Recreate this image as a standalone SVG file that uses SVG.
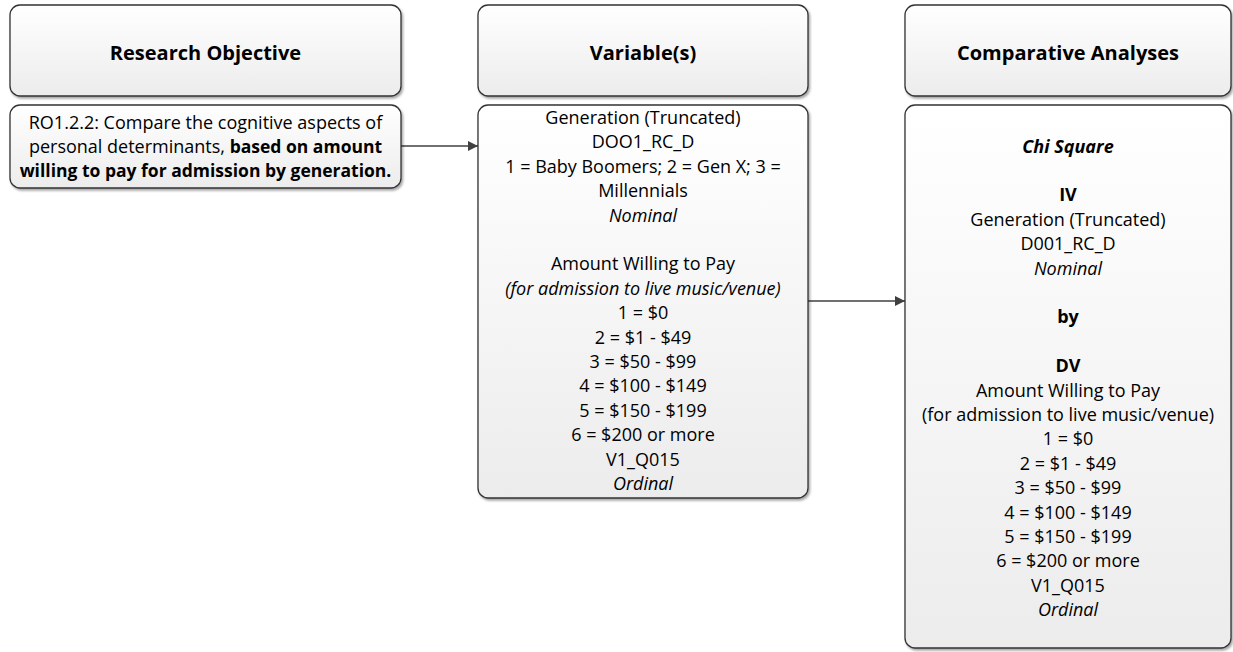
<svg xmlns="http://www.w3.org/2000/svg" width="1233" height="652" viewBox="0 0 1233 652">
<defs>
<linearGradient id="g" x1="0" y1="0" x2="0" y2="1">
<stop offset="0" stop-color="#ffffff"/>
<stop offset="1" stop-color="#ececec"/>
</linearGradient>
<filter id="sh" x="-5%" y="-5%" width="110%" height="115%">
<feDropShadow dx="1.5" dy="2" stdDeviation="1" flood-color="#000" flood-opacity="0.35"/>
</filter>
<marker id="ah" viewBox="0 0 10 10" refX="10" refY="5" markerWidth="10" markerHeight="10" markerUnits="userSpaceOnUse" orient="auto">
<path d="M0,0 L10,5 L0,10 z" fill="#404040"/>
</marker>
<style>
.box{fill:url(#g);stroke:#333;stroke-width:1.3;filter:url(#sh)}
text{font-family:"Open Sans","Noto Sans",sans-serif;fill:#000;text-anchor:middle}
.h{font-size:20px;font-weight:bold}
.t{font-size:18px}
.b{font-weight:bold}
.rb{font-size:17.5px}
.i{font-style:italic}
.conn{stroke:#404040;stroke-width:1.5;fill:none;marker-end:url(#ah)}
</style>
</defs>
<g id="connectors">
<line class="conn" x1="401" y1="146" x2="478" y2="146"/>
<line class="conn" x1="808" y1="301" x2="905" y2="301"/>
</g>
<g id="hdr-ro">
<rect class="box" x="10" y="5" width="391" height="91" rx="10"/>
<text class="h" x="205.5" y="60">Research Objective</text>
</g>
<g id="hdr-var">
<rect class="box" x="478" y="5" width="330" height="91" rx="10"/>
<text class="h" x="643" y="60">Variable(s)</text>
</g>
<g id="hdr-ca">
<rect class="box" x="905" y="5" width="326" height="91" rx="10"/>
<text class="h" x="1068" y="60">Comparative Analyses</text>
</g>
<g id="ro">
<rect class="box" x="10" y="105" width="391" height="83" rx="10"/>
<text class="t" x="205.5" y="128.5">RO1.2.2: Compare the cognitive aspects of</text>
<text class="t" x="205.5" y="152.5">personal determinants, <tspan class="b rb">based on amount</tspan></text>
<text class="t b rb" x="205.5" y="176.5">willing to pay for admission by generation.</text>
</g>
<g id="var">
<rect class="box" x="478" y="105" width="330" height="393" rx="10"/>
<text class="t" x="643" y="124">Generation (Truncated)</text>
<text class="t" x="643" y="148.4">DOO1_RC_D</text>
<text class="t" x="643" y="172.8">1 = Baby Boomers; 2 = Gen X; 3 =</text>
<text class="t" x="643" y="197.2">Millennials</text>
<text class="t i" x="643" y="221.6">Nominal</text>
<text class="t" x="643" y="270.4">Amount Willing to Pay</text>
<text class="t i" x="643" y="294.8">(for admission to live music/venue)</text>
<text class="t" x="643" y="319.2">1 = $0</text>
<text class="t" x="643" y="343.6">2 = $1 - $49</text>
<text class="t" x="643" y="368">3 = $50 - $99</text>
<text class="t" x="643" y="392.4">4 = $100 - $149</text>
<text class="t" x="643" y="416.8">5 = $150 - $199</text>
<text class="t" x="643" y="441.2">6 = $200 or more</text>
<text class="t" x="643" y="465.6">V1_Q015</text>
<text class="t i" x="643" y="490">Ordinal</text>
</g>
<g id="ca">
<rect class="box" x="905" y="105" width="326" height="543" rx="10"/>
<text class="t b i" x="1068" y="152.5">Chi Square</text>
<text class="t b" x="1068" y="201.3">IV</text>
<text class="t" x="1068" y="225.7">Generation (Truncated)</text>
<text class="t" x="1068" y="250.1">D001_RC_D</text>
<text class="t i" x="1068" y="274.5">Nominal</text>
<text class="t b" x="1068" y="323.3">by</text>
<text class="t b" x="1068" y="372.1">DV</text>
<text class="t" x="1068" y="396.5">Amount Willing to Pay</text>
<text class="t" x="1068" y="420.9">(for admission to live music/venue)</text>
<text class="t" x="1068" y="445.3">1 = $0</text>
<text class="t" x="1068" y="469.7">2 = $1 - $49</text>
<text class="t" x="1068" y="494.1">3 = $50 - $99</text>
<text class="t" x="1068" y="518.5">4 = $100 - $149</text>
<text class="t" x="1068" y="542.9">5 = $150 - $199</text>
<text class="t" x="1068" y="567.3">6 = $200 or more</text>
<text class="t" x="1068" y="591.7">V1_Q015</text>
<text class="t i" x="1068" y="616.1">Ordinal</text>
</g>
</svg>
